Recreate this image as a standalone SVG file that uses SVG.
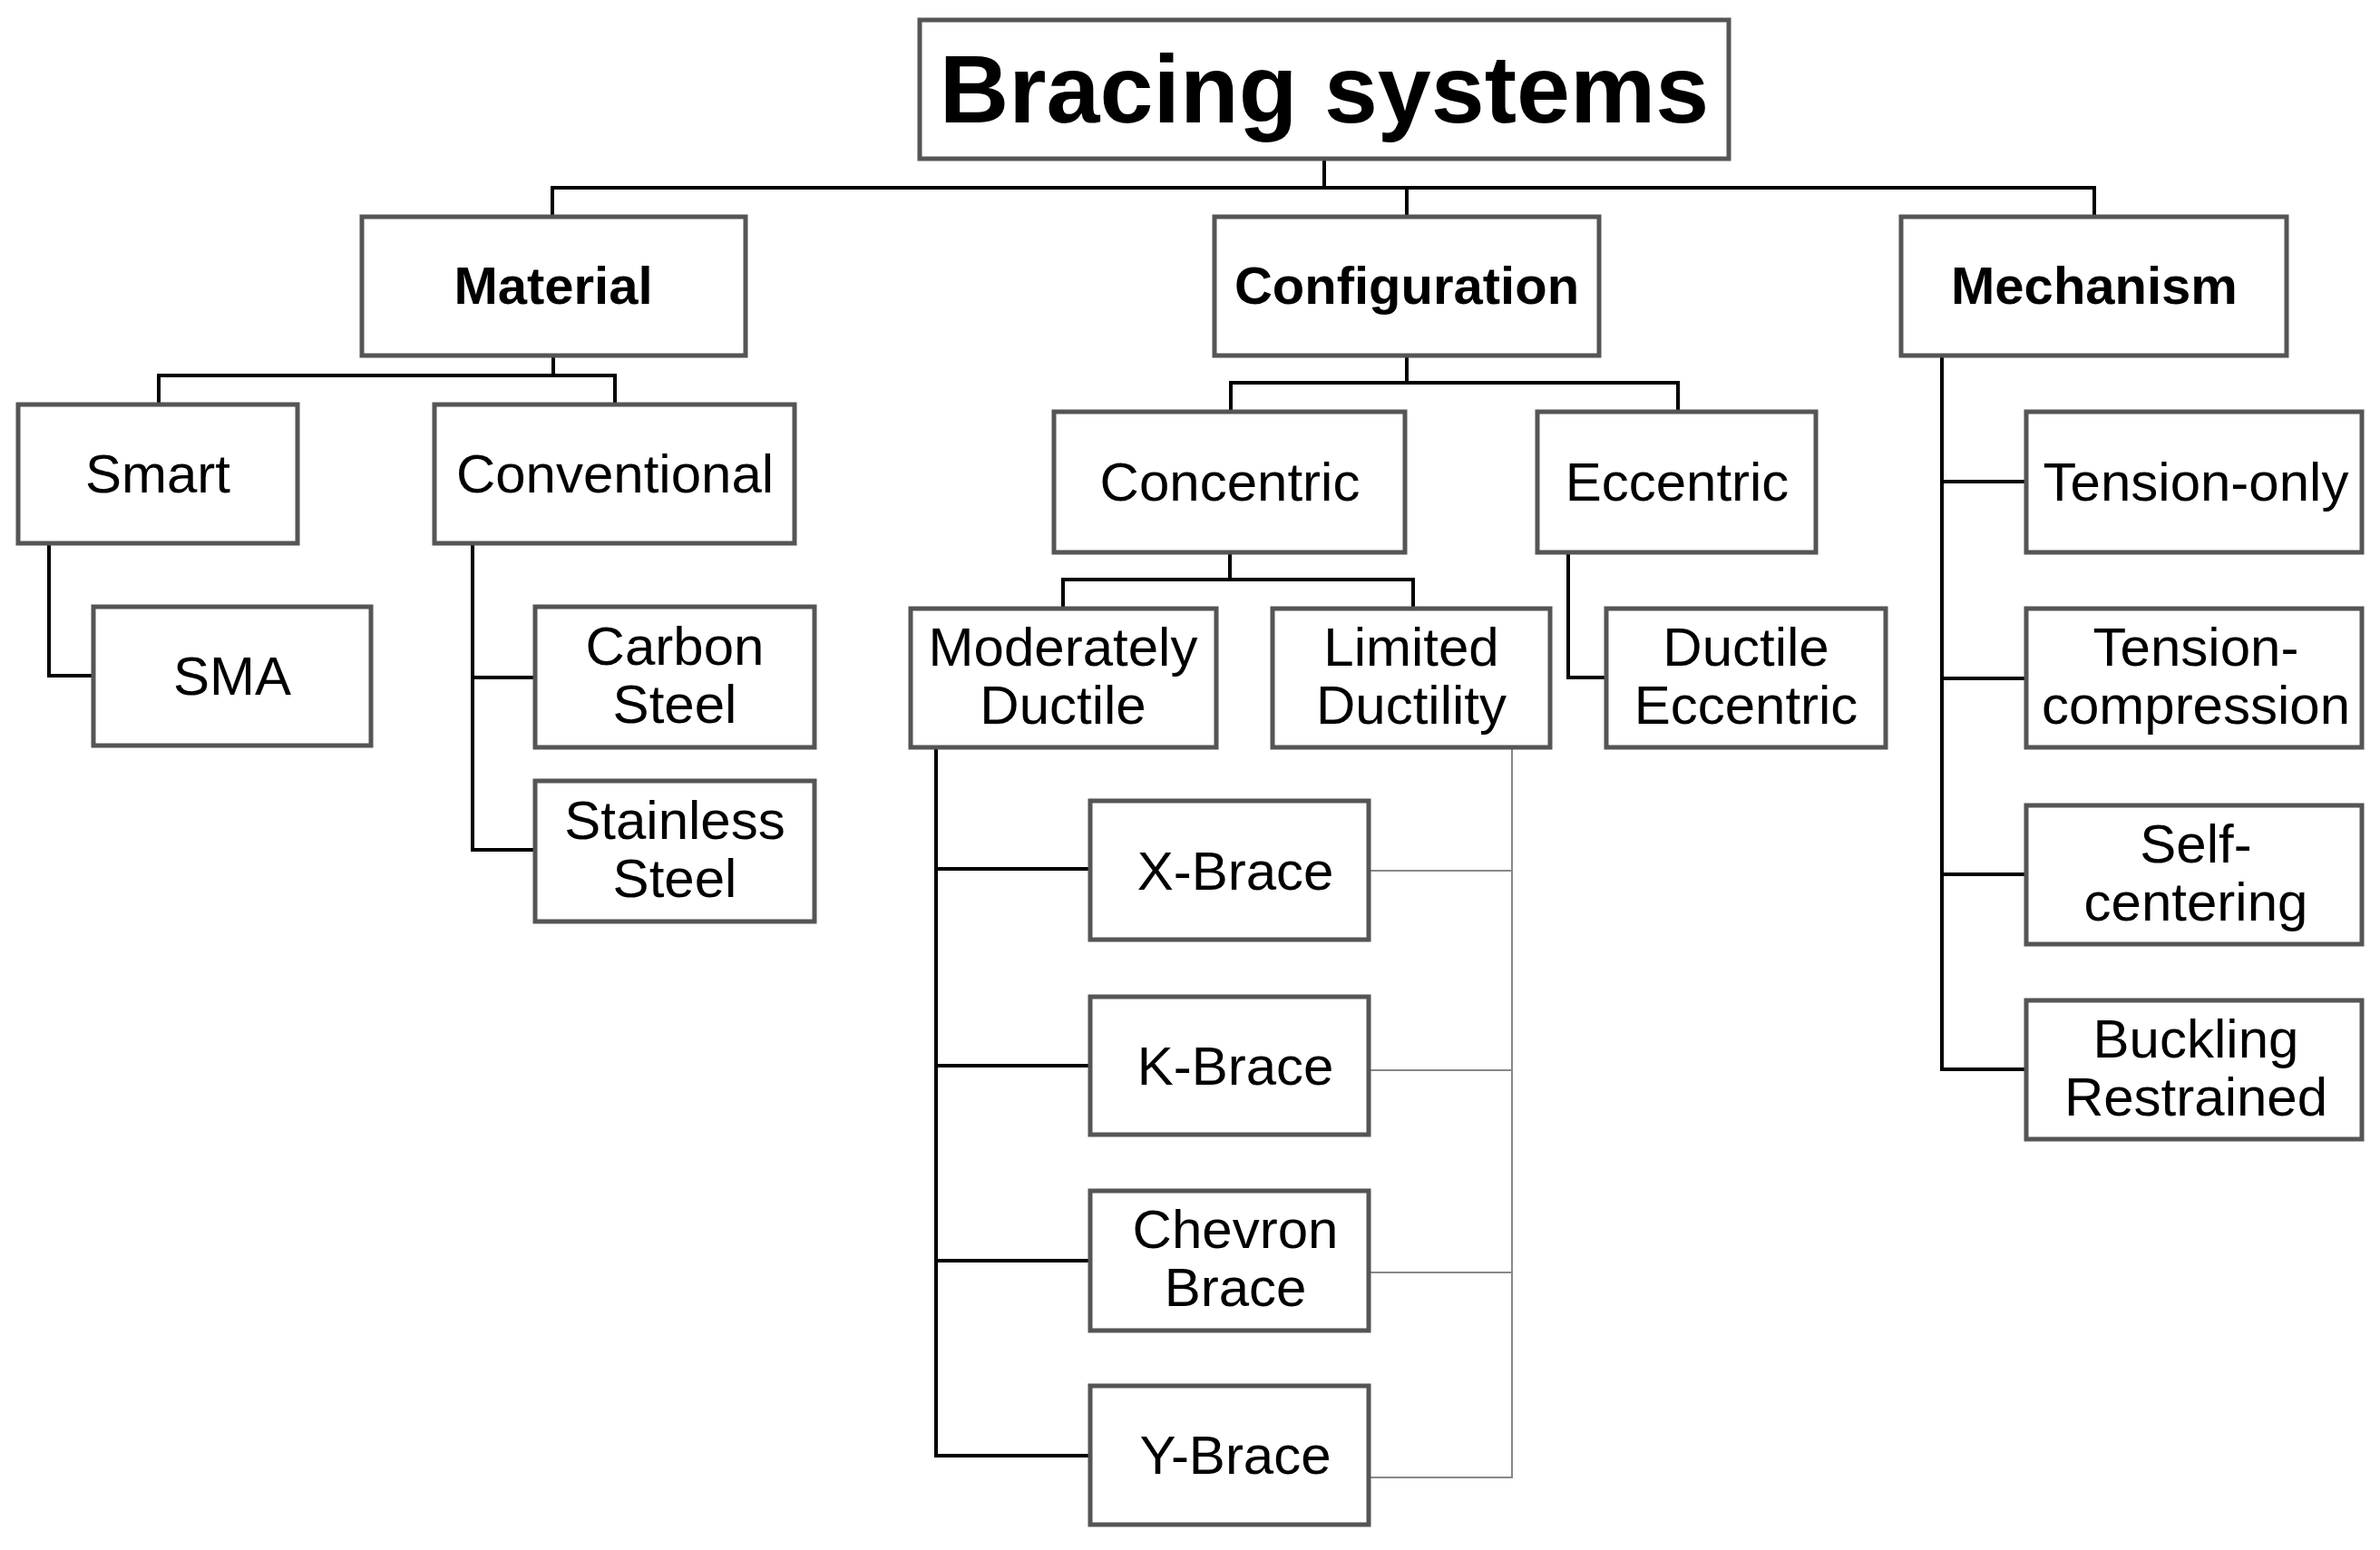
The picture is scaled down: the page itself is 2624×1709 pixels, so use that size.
<svg xmlns="http://www.w3.org/2000/svg" width="2624" height="1709" viewBox="0 0 2624 1709">
<style>
rect{fill:#fff;stroke:#555;stroke-width:5}
text{font-family:"Liberation Sans",Arial,sans-serif;font-size:60px;text-anchor:middle;fill:#000}
.b{font-weight:bold;font-size:58px}
.t{font-weight:bold;font-size:106px}
.c path{fill:none;stroke:#000;stroke-width:4}
.c .g{stroke:#888;stroke-width:2}
</style>
<g class="c" id="connectors">
<path d="M1460 175V207M609 239V207H2309V239M1551 207V239"/>
<path d="M610 392V414M175 446V414H678V446"/>
<path d="M54 599V745H103M521 599V937H590M521 747H590"/>
<path d="M1551 392V422M1357 454V422H1850V454"/>
<path d="M1356 609V639M1172 671V639H1558V671"/>
<path d="M1729 609V747H1771"/>
<path d="M1032 824V1605H1202M1032 958H1202M1032 1175H1202M1032 1390H1202"/>
<path class="g" d="M1667 824V1629H1509M1509 960H1667M1509 1180H1667M1509 1403H1667"/>
<path d="M2141 392V1179H2234M2141 531H2234M2141 748H2234M2141 964H2234"/>
</g>
<g id="root"><rect x="1014" y="22" width="892" height="153"/><text class="t" x="1460" y="135">Bracing systems</text></g>
<g id="material"><rect x="399" y="239" width="423" height="153"/><text class="b" x="610" y="335">Material</text></g>
<g id="configuration"><rect x="1339" y="239" width="424" height="153"/><text class="b" x="1551" y="335">Configuration</text></g>
<g id="mechanism"><rect x="2096" y="239" width="425" height="153"/><text class="b" x="2309" y="335">Mechanism</text></g>
<g id="smart"><rect x="20" y="446" width="308" height="153"/><text x="174" y="543">Smart</text></g>
<g id="conventional"><rect x="479" y="446" width="397" height="153"/><text x="678" y="543">Conventional</text></g>
<g id="sma"><rect x="103" y="669" width="306" height="153"/><text x="256" y="766">SMA</text></g>
<g id="carbon"><rect x="590" y="669" width="308" height="155"/><text x="744" y="733">Carbon</text><text x="744" y="797">Steel</text></g>
<g id="stainless"><rect x="590" y="861" width="308" height="155"/><text x="744" y="925">Stainless</text><text x="744" y="989">Steel</text></g>
<g id="concentric"><rect x="1162" y="454" width="387" height="155"/><text x="1356" y="552">Concentric</text></g>
<g id="eccentric"><rect x="1695" y="454" width="307" height="155"/><text x="1849" y="552">Eccentric</text></g>
<g id="moderately"><rect x="1004" y="671" width="337" height="153"/><text x="1172" y="734">Moderately</text><text x="1172" y="798">Ductile</text></g>
<g id="limited"><rect x="1403" y="671" width="306" height="153"/><text x="1556" y="734">Limited</text><text x="1556" y="798">Ductility</text></g>
<g id="ductileecc"><rect x="1771" y="671" width="308" height="153"/><text x="1925" y="734">Ductile</text><text x="1925" y="798">Eccentric</text></g>
<g id="xbrace"><rect x="1202" y="883" width="307" height="153"/><text x="1362" y="981">X-Brace</text></g>
<g id="kbrace"><rect x="1202" y="1099" width="307" height="152"/><text x="1362" y="1196">K-Brace</text></g>
<g id="chevron"><rect x="1202" y="1313" width="307" height="154"/><text x="1362" y="1376">Chevron</text><text x="1362" y="1440">Brace</text></g>
<g id="ybrace"><rect x="1202" y="1528" width="307" height="153"/><text x="1362" y="1625">Y-Brace</text></g>
<g id="tonly"><rect x="2234" y="454" width="370" height="155"/><text x="2421" y="552">Tension-only</text></g>
<g id="tcomp"><rect x="2234" y="671" width="370" height="153"/><text x="2421" y="734">Tension-</text><text x="2421" y="798">compression</text></g>
<g id="self"><rect x="2234" y="888" width="370" height="153"/><text x="2421" y="951">Self-</text><text x="2421" y="1015">centering</text></g>
<g id="buckling"><rect x="2234" y="1103" width="370" height="153"/><text x="2421" y="1166">Buckling</text><text x="2421" y="1230">Restrained</text></g>
</svg>
